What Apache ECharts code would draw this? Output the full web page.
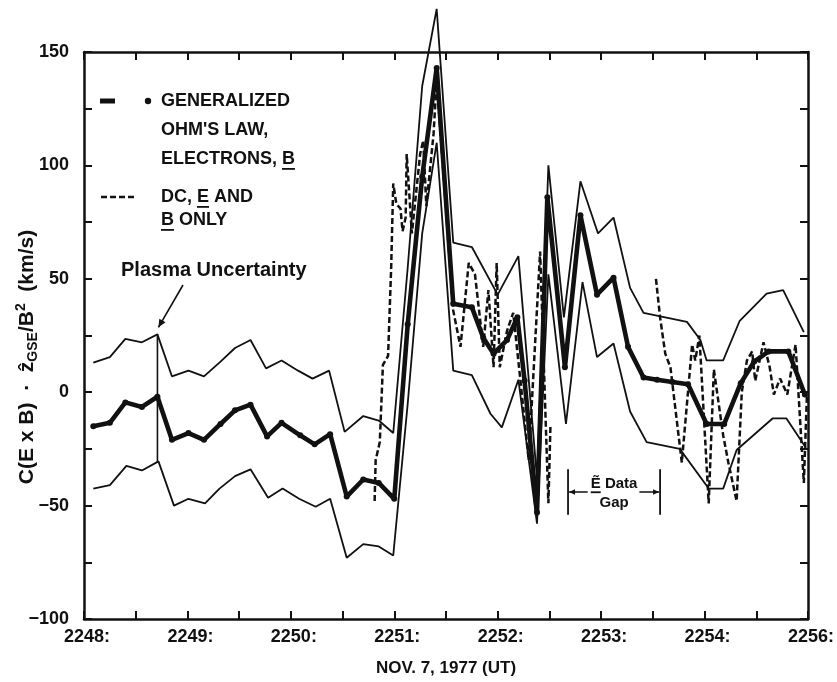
<!DOCTYPE html>
<html>
<head>
<meta charset="utf-8">
<script src="https://cdn.jsdelivr.net/npm/echarts@6/dist/echarts.min.js"></script>
<style>
  html, body { margin: 0; padding: 0; background: #fff; }
  #c { width: 837px; height: 682px; }
</style>
</head>
<body>
<div id="c"></div>
<script>
// Time axis: minutes after 22:48 UT, Nov. 7, 1977.  Values in km/s.

// Generalized Ohm's law, electrons, B (thick line with dots)
const centreT = [0.09, 0.25, 0.40, 0.56, 0.71, 0.85, 1.01, 1.16, 1.32, 1.46, 1.61, 1.77, 1.91, 2.09, 2.23, 2.38, 2.54, 2.70, 2.85, 3.00,
                 3.13, 3.27, 3.41, 3.57, 3.75, 3.86, 3.96, 4.09, 4.19, 4.26, 4.38, 4.48, 4.65, 4.80, 4.96, 5.12, 5.26, 5.41, 5.54, 5.69,
                 5.84, 6.02, 6.19, 6.35, 6.48, 6.62, 6.81, 6.97];
const centreV = [-15, -13.5, -4.5, -6.5, -2, -21, -18, -21, -14, -8, -5.5, -19.5, -13.5, -19, -23, -18.5, -46, -38.5, -40, -47,
                 30, 95, 143, 39, 37.5, 24, 17, 23, 33, 5, -53, 86, 11, 78, 43, 50.5, 20, 6.5, 5.5, 4.5,
                 3.5, -14, -14, 4, 13.5, 18, 18, -1];

// Plasma uncertainty band: upper and lower limits
const upperT = [0.09, 0.25, 0.40, 0.56, 0.71, 0.85, 1.01, 1.16, 1.32, 1.46, 1.61, 1.76, 1.91, 2.07, 2.21, 2.37, 2.52, 2.70, 2.85, 2.99,
                3.13, 3.27, 3.41, 3.57, 3.75, 4.00, 4.20, 4.38, 4.49, 4.64, 4.80, 4.97, 5.12, 5.28, 5.41, 5.83, 5.96, 6.02, 6.18, 6.34,
                6.60, 6.76, 6.96];
const upperV = [13, 15.5, 23.5, 22, 25.5, 7, 9.5, 7, 13.5, 19.5, 23, 10.5, 14, 9.5, 6, 9.5, -17.5, -10.5, -12.5, -18,
                55, 135, 169, 66, 64, 43, 60, -38, 100, 33, 93, 70, 77, 46, 35, 31, 23, 14, 14, 31.5,
                43.5, 45, 26.5];
const lowerT = [0.09, 0.25, 0.41, 0.56, 0.72, 0.87, 1.01, 1.17, 1.31, 1.46, 1.61, 1.78, 1.92, 2.08, 2.24, 2.38, 2.54, 2.70, 2.85, 2.99,
                3.13, 3.27, 3.41, 3.57, 3.75, 3.93, 4.04, 4.20, 4.38, 4.49, 4.66, 4.82, 4.96, 5.12, 5.28, 5.44, 5.76, 6.04, 6.18, 6.31,
                6.66, 6.79, 6.98];
const lowerV = [-42.5, -41, -32.5, -34.5, -30.5, -50, -47, -49, -42.5, -37, -34, -46.5, -42.5, -47, -50.5, -47, -73, -67, -68, -72,
                -5, 70, 110, 9.5, 7.5, -9.5, -15.5, 5.5, -58, 52, -14, 48.5, 15.5, 21.5, -8.5, -22, -25, -42.5, -42.5, -25.5,
                -11.5, -11.5, -24.5];
// sample whose uncertainty is marked with a bar
const plasmaMarkIndex = 4;

// DC E and B only (dashed), before and after the E data gap
const dcEarlyT = [2.81, 2.82, 2.86, 2.89, 2.94, 2.97, 2.99, 3.02, 3.06, 3.08, 3.11, 3.12, 3.17, 3.25, 3.28, 3.31, 3.38, 3.41,
                  3.57, 3.64, 3.72, 3.78, 3.86, 3.91, 3.96, 3.99, 4.02, 4.09, 4.15, 4.22, 4.30, 4.41, 4.49, 4.51];
const dcEarlyV = [-48, -30, -22, 12, 16, 55, 92, 83, 81, 71, 77, 105, 70, 105, 111, 82, 114, 138,
                  36, 20, 57, 52, 20, 45, 11, 57, 11, 27, 35, 5, -30, 62, -49, -15];
const dcLateT = [5.53, 5.57, 5.62, 5.67, 5.78, 5.88, 5.91, 5.95, 6.04, 6.09, 6.18, 6.23, 6.31, 6.36, 6.41, 6.46, 6.49,
                 6.57, 6.63, 6.67, 6.73, 6.80, 6.88, 6.96, 6.99];
const dcLateV = [50, 33, 17, 11, -31, 21, 14, 25, -49, 10, -19, -31, -48, 0, 14, 18, 5,
                 22, 11, -1, 6, -1, 21, -40, -1];

// E data gap (minutes) and the height band of its bracket (km/s)
const gapSpan = [4.68, 5.57];
const gapBand = [-34, -54];

// Tick labels
const xTickLabels = ['2248:', '2249:', '2250:', '2251:', '2252:', '2253:', '2254:', '2256:'];
const yTickValues = [-100, -50, 0, 50, 100, 150];
const yTickLabels = ['\u2212100', '\u221250', '0', '50', '100', '150'];

const INK = '#111';
const FONT = '"Liberation Sans", Arial, Helvetica, sans-serif';
const pair = (ts, vs) => ts.map((t, i) => [t, vs[i]]);

const chart = echarts.init(document.getElementById('c'), null, { renderer: 'canvas' });

function frameAxis(extra) {
  return Object.assign({
    type: 'value',
    axisLine: { show: true, onZero: false, lineStyle: { color: INK, width: 2.5 } },
    axisTick: { show: true, inside: true, length: 8, lineStyle: { color: INK, width: 2 } },
    splitLine: { show: false },
    axisLabel: { show: false }
  }, extra);
}

const labelStyle = { color: INK, fontFamily: FONT, fontWeight: 'bold', fontSize: 18 };

const lineSeries = (name, data, width, extra) => Object.assign({
  name, type: 'line', data, clip: false, showSymbol: false, symbol: 'none',
  lineStyle: { color: INK, width }, itemStyle: { color: INK }, silent: true
}, extra);

chart.setOption({
  backgroundColor: '#fff',
  animation: false,
  grid: { left: 84, right: 29, top: 52, bottom: 63, containLabel: false },
  xAxis: [
    frameAxis({
      position: 'bottom', min: 0, max: 7, interval: 0.5,
      axisLabel: Object.assign({
        show: true, margin: 9, padding: [0, 0, 0, 6],
        formatter: v => {
          const i = Math.round(v);
          return Math.abs(v - i) < 1e-6 ? xTickLabels[i] : '';
        }
      }, labelStyle)
    }),
    frameAxis({ position: 'top', min: 0, max: 7, interval: 0.5 })
  ],
  yAxis: [
    frameAxis({
      position: 'left', min: -100, max: 150, interval: 25,
      axisLabel: Object.assign({
        show: true, margin: 15,
        formatter: v => {
          const i = yTickValues.indexOf(Math.round(v));
          return i >= 0 && Math.abs(v - Math.round(v)) < 1e-6 ? yTickLabels[i] : '';
        }
      }, labelStyle)
    }),
    frameAxis({ position: 'right', min: -100, max: 150, interval: 25 })
  ],
  series: [
    lineSeries('upper', pair(upperT, upperV), 1.8),
    lineSeries('lower', pair(lowerT, lowerV), 1.8),
    lineSeries('plasma bar', [[upperT[plasmaMarkIndex], upperV[plasmaMarkIndex]],
                              [upperT[plasmaMarkIndex], lowerV[plasmaMarkIndex]]], 1.6),
    lineSeries('dc early', pair(dcEarlyT, dcEarlyV), 2.5, { lineStyle: { color: INK, width: 2.5, type: [6, 3] } }),
    lineSeries('dc late', pair(dcLateT, dcLateV), 2.5, { lineStyle: { color: INK, width: 2.5, type: [6, 3] } }),
    lineSeries('ohm', pair(centreT, centreV), 4.6, {
      showSymbol: true, symbol: 'circle', symbolSize: 6, z: 5
    })
  ]
});

// ---- annotations ----
const px = (t, v) => chart.convertToPixel({ gridIndex: 0 }, [t, v]);
const measure = (() => {
  const ctx = document.createElement('canvas').getContext('2d');
  return (txt, size) => { ctx.font = 'bold ' + size + 'px ' + FONT; return ctx.measureText(txt).width; };
})();

const g = [];
const text = (x, y, str, size, extra) => g.push(Object.assign({
  type: 'text', x, y, silent: true,
  style: { text: str, fill: INK, font: 'bold ' + size + 'px ' + FONT, align: 'left', verticalAlign: 'middle' }
}, extra || {}));
const line = (x1, y1, x2, y2, w, dash) => g.push({
  type: 'line', silent: true, shape: { x1, y1, x2, y2 },
  style: { stroke: INK, lineWidth: w, lineDash: dash || null }
});
const arrowHead = (x, y, dx, dy, size) => {
  const L = Math.hypot(dx, dy), ux = dx / L, uy = dy / L;
  const bx = x - ux * size, by = y - uy * size, w = size * 0.45;
  g.push({ type: 'polygon', silent: true,
    shape: { points: [[x, y], [bx - uy * w, by + ux * w], [bx + uy * w, by - ux * w]] },
    style: { fill: INK } });
};
// underline a letter that follows `prefix` in a text drawn at (x, y)
const underline = (x, y, prefix, letter, size) => {
  const a = x + measure(prefix, size), b = a + measure(letter, size);
  line(a, y + size * 0.55, b, y + size * 0.55, 1.8);
};

// legend
const LX = 161, LS = 18;
line(100, 101, 115, 101, 5);
g.push({ type: 'circle', silent: true, shape: { cx: 148, cy: 101, r: 3.2 }, style: { fill: INK } });
text(LX, 101, 'GENERALIZED', LS);
text(LX, 130, "OHM'S LAW,", LS);
text(LX, 159, 'ELECTRONS, B', LS);
underline(LX, 159, 'ELECTRONS, ', 'B', LS);
line(101, 197, 135, 197, 2.5, [6, 3]);
text(LX, 197, 'DC, E AND', LS);
underline(LX, 197, 'DC, ', 'E', LS);
text(LX, 220, 'B ONLY', LS);
underline(LX, 220, '', 'B', LS);

// plasma uncertainty label and arrow
text(121, 270, 'Plasma Uncertainty', 20);
const pm = px(upperT[plasmaMarkIndex], upperV[plasmaMarkIndex]);
const aStart = [183, 285], aEnd = [pm[0] + 1, pm[1] - 7];
line(aStart[0], aStart[1], aEnd[0], aEnd[1], 1.6);
arrowHead(aEnd[0], aEnd[1], aEnd[0] - aStart[0], aEnd[1] - aStart[1], 8);

// E data gap bracket
const gTop = px(gapSpan[0], gapBand[0]), gBot = px(gapSpan[0], gapBand[1]);
const gR = px(gapSpan[1], gapBand[0]);
const gx0 = gTop[0], gx1 = gR[0], gy0 = gTop[1], gy1 = gBot[1], gyMid = (gy0 + gy1) / 2;
line(gx0, gy0, gx0, gy1, 1.8);
line(gx1, gy0, gx1, gy1, 1.8);
const gc = (gx0 + gx1) / 2;
const eW = measure('\u1EBC', 15), dW = measure(' Data', 15);
const tx = gc - (eW + dW) / 2;
text(tx, gyMid - 8, '\u1EBC Data', 15);
underline(tx, gyMid - 8, '', '\u1EBC', 15);
text(gc, gyMid + 11, 'Gap', 15, { style: { text: 'Gap', fill: INK, font: 'bold 15px ' + FONT, align: 'center', verticalAlign: 'middle' } });
line(tx - 3, gyMid, gx0 + 1, gyMid, 1.5);
arrowHead(gx0 + 1, gyMid, -1, 0, 6);
line(tx + eW + dW + 2, gyMid, gx1 - 1, gyMid, 1.5);
arrowHead(gx1 - 1, gyMid, 1, 0, 6);

// axis titles
g.push({
  type: 'text', x: 27, y: 357, rotation: Math.PI / 2, silent: true,
  style: {
    text: '{a|C(E x B)  \u00B7  \u1E91}{s|GSE}{a|/B}{p|2}{a|  (km/s)}',
    align: 'center', verticalAlign: 'middle', fill: INK,
    rich: {
      a: { fontFamily: FONT, fontWeight: 'bold', fontSize: 21, lineHeight: 26, fill: INK, verticalAlign: 'middle' },
      s: { fontFamily: FONT, fontWeight: 'bold', fontSize: 14, lineHeight: 26, fill: INK, verticalAlign: 'bottom' },
      p: { fontFamily: FONT, fontWeight: 'bold', fontSize: 14, lineHeight: 26, fill: INK, verticalAlign: 'top' }
    }
  }
});
g.push({
  type: 'text', x: 446, y: 668, silent: true,
  style: { text: 'NOV. 7, 1977 (UT)', fill: INK, font: 'bold 17px ' + FONT, align: 'center', verticalAlign: 'middle' }
});

chart.setOption({ graphic: { elements: g } });
</script>
</body>
</html>
